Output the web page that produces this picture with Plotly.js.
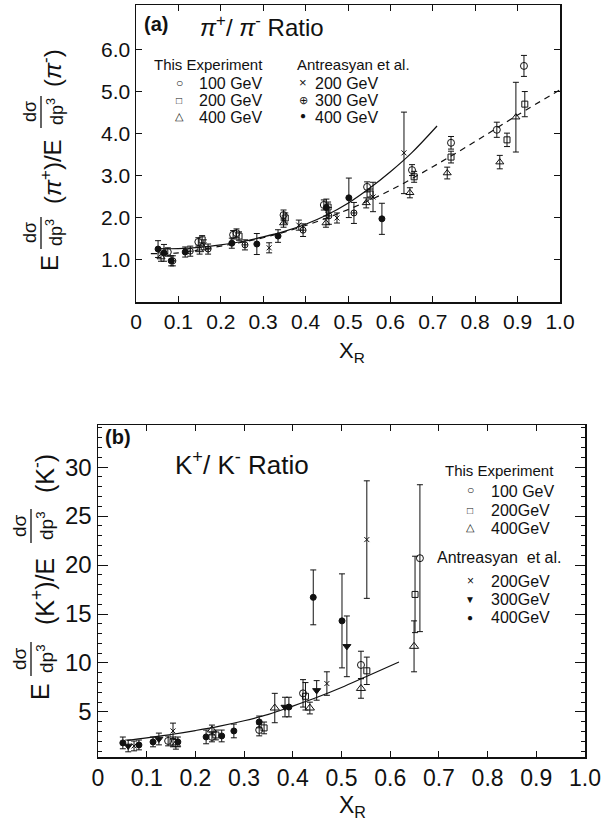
<!DOCTYPE html>
<html><head><meta charset="utf-8">
<script src="https://cdn.plot.ly/plotly-3.0.1.min.js"></script>
<style>html,body{margin:0;padding:0;background:#fff}#plot{width:608px;height:821px}</style>
</head><body><div id="plot"></div>
<script>
// ---------- (a) pi+/pi- ratio ----------
const piXTicks = [0,0.1,0.2,0.3,0.4,0.5,0.6,0.7,0.8,0.9,1.0];
const piXTickText = ["0","0.1","0.2","0.3","0.4","0.5","0.6","0.7","0.8","0.9","1.0"];
const piYTicks = [1,2,3,4,5,6];
const piYTickText = ["1.0","2.0","3.0","4.0","5.0","6.0"];

const pi100X = [0.075,0.147,0.229,0.237,0.348,0.443,0.545,0.651,0.743,0.851,0.915];
const pi100Y = [1.19,1.43,1.60,1.64,2.07,2.31,2.74,3.14,3.79,4.10,5.62];
const pi100E = [0.10,0.10,0.10,0.10,0.12,0.12,0.12,0.13,0.15,0.18,0.25];

const pi200X = [0.156,0.243,0.352,0.453,0.552,0.656,0.743,0.875,0.917];
const pi200Y = [1.48,1.57,2.00,2.26,2.57,2.98,3.45,3.86,4.71];
const pi200E = [0.10,0.10,0.12,0.12,0.12,0.13,0.14,0.16,0.30];

const pi400X = [0.059,0.150,0.348,0.448,0.543,0.646,0.734,0.858,0.896];
const pi400Y = [1.07,1.24,1.88,1.88,2.36,2.60,3.07,3.33,4.40];
const pi400E = [0.10,0.10,0.10,0.10,0.12,0.12,0.14,0.16,0.83];

const piA200X = [0.160,0.314,0.384,0.474,0.559,0.632];
const piA200Y = [1.36,1.29,1.83,2.00,2.50,3.55];
const piA200E = [0.12,0.12,0.12,0.12,0.35,0.97];

const piA300X = [0.087,0.128,0.170,0.257,0.394,0.455,0.514];
const piA300Y = [0.98,1.21,1.26,1.36,1.71,2.05,2.12];
const piA300E = [0.12,0.12,0.12,0.12,0.15,0.20,0.25];

const piA400X = [0.052,0.066,0.083,0.116,0.226,0.285,0.335,0.449,0.502,0.580];
const piA400Y = [1.26,1.17,0.98,1.19,1.40,1.38,1.57,2.25,2.48,1.98];
const piA400E = [0.20,0.20,0.12,0.12,0.12,0.25,0.15,0.20,0.47,0.37];

const piSolidX = [0.05,0.10,0.15,0.20,0.25,0.30,0.35,0.40,0.45,0.50,0.55,0.60,0.65,0.71];
const piSolidY = [1.27,1.27,1.30,1.36,1.44,1.55,1.68,1.85,2.07,2.35,2.70,3.10,3.55,4.19];
const piDashX = [0.035,0.10,0.20,0.30,0.40,0.50,0.60,0.70,0.80,0.90,1.00];
const piDashY = [1.15,1.17,1.33,1.53,1.82,2.20,2.66,3.22,3.82,4.45,5.05];

// ---------- (b) K+/K- ratio ----------
const kXTicks = piXTicks;
const kXTickText = piXTickText;
const kYTicks = [5,10,15,20,25,30];
const kYTickText = ["5","10","15","20","25","30"];

const k100X = [0.144,0.234,0.331,0.421,0.540,0.661];
const k100Y = [2.04,2.45,3.16,6.9,9.8,20.7];
const k100E = [0.5,0.5,0.6,1.4,1.4,7.5];

const k200X = [0.154,0.242,0.341,0.426,0.552,0.651];
const k200Y = [1.94,2.65,3.37,6.6,9.2,17.0];
const k200E = [0.5,0.5,0.6,1.4,1.4,3.9];

const k400X = [0.160,0.234,0.363,0.435,0.540,0.649];
const k400Y = [1.70,3.16,5.4,5.4,7.4,11.7];
const k400E = [0.5,0.5,1.5,0.6,1.0,2.6];

const kA200X = [0.074,0.154,0.470,0.552];
const kA200Y = [1.53,3.06,7.9,22.6];
const kA200E = [0.5,0.8,1.2,6.0];

const kA300X = [0.062,0.125,0.384,0.449,0.511];
const kA300Y = [1.53,2.24,5.5,7.2,11.7];
const kA300E = [0.6,0.6,1.0,1.0,3.1];

const kA400X = [0.051,0.084,0.113,0.164,0.222,0.254,0.279,0.331,0.392,0.442,0.501];
const kA400Y = [1.84,1.63,1.94,1.94,2.45,2.55,3.06,3.98,5.5,16.7,14.3];
const kA400E = [0.6,0.5,0.5,0.5,0.7,0.6,0.7,0.6,1.0,2.8,4.8];

const kCurveX = [0.06,0.10,0.15,0.20,0.25,0.30,0.35,0.40,0.45,0.50,0.55,0.618];
const kCurveY = [2.1,2.35,2.7,3.1,3.55,4.1,4.75,5.6,6.5,7.5,8.6,10.1];

// ---------- helpers ----------
const W = 608, H = 821;
const px = v => v / W;
const py = v => 1 - v / H;
const FONT = "Liberation Sans, Arial, sans-serif";
const INK = '#111';

function pts(x, y, e, sym, size, xa, ya) {
  return {
    type: 'scatter', mode: 'markers', x: x, y: y, xaxis: xa, yaxis: ya,
    error_y: {type: 'data', array: e, visible: true, color: INK, thickness: 1, width: 3},
    marker: {symbol: sym, size: size, color: INK, line: {color: INK, width: 1}},
    showlegend: false, hoverinfo: 'skip'
  };
}
function line(x, y, dash, xa, ya) {
  return {type: 'scatter', mode: 'lines', x: x, y: y, xaxis: xa, yaxis: ya,
    line: {color: INK, width: 1.2, dash: dash, shape: 'spline'}, showlegend: false, hoverinfo: 'skip'};
}

const data = [
  line(piSolidX, piSolidY, 'solid', 'x', 'y'),
  line(piDashX, piDashY, '6px,5px', 'x', 'y'),
  pts(pi100X, pi100Y, pi100E, 'circle-open', 7, 'x', 'y'),
  pts(pi200X, pi200Y, pi200E, 'square-open', 6, 'x', 'y'),
  pts(pi400X, pi400Y, pi400E, 'triangle-up-open', 7, 'x', 'y'),
  pts(piA200X, piA200Y, piA200E, 'x-thin-open', 5, 'x', 'y'),
  pts(piA300X, piA300Y, piA300E, 'circle-cross-open', 6, 'x', 'y'),
  pts(piA400X, piA400Y, piA400E, 'circle', 6, 'x', 'y'),

  line(kCurveX, kCurveY, 'solid', 'x2', 'y2'),
  pts(k100X, k100Y, k100E, 'circle-open', 7, 'x2', 'y2'),
  pts(k200X, k200Y, k200E, 'square-open', 6, 'x2', 'y2'),
  pts(k400X, k400Y, k400E, 'triangle-up-open', 8, 'x2', 'y2'),
  pts(kA200X, kA200Y, kA200E, 'x-thin-open', 5, 'x2', 'y2'),
  pts(kA300X, kA300Y, kA300E, 'triangle-down', 7, 'x2', 'y2'),
  pts(kA400X, kA400Y, kA400E, 'circle', 6, 'x2', 'y2')
];

const axBase = {
  showgrid: false, zeroline: false, showline: true, linecolor: INK, linewidth: 1.5,
  mirror: 'allticks', ticks: 'inside', tickcolor: INK, ticklen: 6, tickwidth: 1,
  tickmode: 'array', tickfont: {family: FONT, size: 21, color: INK}
};

const layout = {
  width: W, height: H, margin: {l: 0, r: 0, t: 0, b: 0, autoexpand: false},
  paper_bgcolor: '#fff', plot_bgcolor: '#fff', showlegend: false,
  xaxis: Object.assign({}, axBase, {domain: [px(136), px(560)], range: [0, 1], anchor: 'y',
    tickvals: piXTicks, ticktext: piXTickText}),
  yaxis: Object.assign({}, axBase, {domain: [py(302), py(5)], range: [0, 7.07], anchor: 'x',
    tickvals: piYTicks, ticktext: piYTickText}),
  xaxis2: Object.assign({}, axBase, {domain: [px(98), px(585)], range: [0, 1], anchor: 'y2',
    tickvals: kXTicks, ticktext: kXTickText, tickfont: {family: FONT, size: 23, color: INK}}),
  yaxis2: Object.assign({}, axBase, {domain: [py(757), py(425)], range: [0.4, 34.3], anchor: 'x2',
    tickvals: kYTicks, ticktext: kYTickText, ticklen: 10, tickfont: {family: FONT, size: 24, color: INK},
    minor: {tickmode: 'linear', tick0: 0, dtick: 1, ticklen: 4, ticks: 'inside', tickcolor: INK}}),
  annotations: [],
  shapes: []
};

function ann(text, x, y, size, opts) {
  layout.annotations.push(Object.assign({
    text: text, x: px(x), y: py(y), xref: 'paper', yref: 'paper', showarrow: false,
    xanchor: 'center', yanchor: 'middle', font: {family: FONT, size: size, color: INK}
  }, opts || {}));
}
function bar(x0, y0, x1, y1) {
  layout.shapes.push({type: 'line', xref: 'paper', yref: 'paper', x0: px(x0), y0: py(y0), x1: px(x1), y1: py(y1),
    line: {color: INK, width: 1.3}});
}

// titles (a)
ann('<b>(a)</b>', 156, 24, 20);
ann('<i>π</i><sup>+</sup>/ <i>π</i><sup>-</sup> Ratio', 262, 26, 24);
// legend (a)
ann('This Experiment', 208, 65, 15);
ann('○', 179, 83, 12); ann('100 GeV', 197, 84, 16, {xanchor: 'left'});
ann('□', 179, 100, 10); ann('200 GeV', 197, 101, 16, {xanchor: 'left'});
ann('△', 179, 116, 11); ann('400 GeV', 197, 117, 16, {xanchor: 'left'});
ann('Antreasyan et al.', 295, 65, 15, {xanchor: 'left'});
ann('×', 303, 83, 13); ann('200 GeV', 313, 84, 16, {xanchor: 'left'});
ann('⊕', 303, 100, 11); ann('300 GeV', 313, 101, 16, {xanchor: 'left'});
ann('●', 303, 116, 10); ann('400 GeV', 313, 117, 16, {xanchor: 'left'});
// x title (a)
ann('X<sub>R</sub>', 352, 352, 22);

// y title (a) - rotated pieces
const rot = {textangle: -90};
ann('E', 49, 263, 24, rot);
ann('dσ', 30, 233, 18, rot);
ann('dp<sup>3</sup>', 55, 233, 18, rot);
bar(41, 217, 41, 249);
ann('(<i>π</i><sup>+</sup>)/E', 51, 172, 24, rot);
ann('dσ', 30, 112, 18, rot);
ann('dp<sup>3</sup>', 55, 112, 18, rot);
bar(41, 96, 41, 128);
ann('(<i>π</i><sup>-</sup>)', 51, 68, 24, rot);

// titles (b)
ann('<b>(b)</b>', 118, 437, 20);
ann('K<sup>+</sup>/ K<sup>-</sup> Ratio', 242, 463, 26);
// legend (b)
ann('This Experiment', 500, 470, 15);
ann('○', 470, 490, 12); ann('100 GeV', 489, 491, 16, {xanchor: 'left'});
ann('□', 470, 510, 10); ann('200GeV', 489, 510, 16, {xanchor: 'left'});
ann('△', 470, 527, 11); ann('400GeV', 489, 528, 16, {xanchor: 'left'});
ann('Antreasyan  et al.', 500, 557, 16);
ann('×', 470, 581, 12); ann('200GeV', 489, 581, 16, {xanchor: 'left'});
ann('▼', 470, 599, 10); ann('300GeV', 489, 599, 16, {xanchor: 'left'});
ann('●', 470, 617, 10); ann('400GeV', 489, 617, 16, {xanchor: 'left'});
// x title (b)
ann('X<sub>R</sub>', 352, 806, 23);
// y title (b)
ann('E', 40, 692, 25, rot);
ann('dσ', 19, 659, 19, rot);
ann('dp<sup>3</sup>', 45, 659, 19, rot);
bar(31, 642, 31, 676);
ann('(K<sup>+</sup>)/E', 43, 592, 25, rot);
ann('dσ', 19, 526, 19, rot);
ann('dp<sup>3</sup>', 45, 526, 19, rot);
bar(31, 509, 31, 543);
ann('(K<sup>-</sup>)', 43, 474, 25, rot);

Plotly.newPlot('plot', data, layout, {staticPlot: true});
</script>
</body></html>
